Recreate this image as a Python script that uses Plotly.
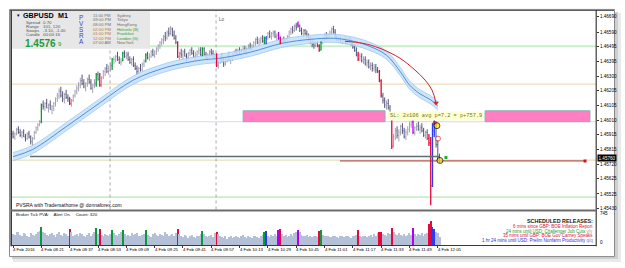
import plotly.graph_objects as go

W, H = 625, 268
FONT = "Liberation Sans, Arial, sans-serif"
MONO = "Liberation Mono, Courier New, monospace"

# ---------------- data (GBPUSD M1) ----------------
bar_open = [
    1.4592, 1.4590, 1.4592, 1.4595, 1.4593, 1.4591, 1.4593, 1.4590, 1.4589, 1.4592,
    1.4590, 1.4587, 1.4589, 1.4593, 1.4596, 1.4598, 1.4600, 1.4611, 1.4610, 1.4612,
    1.4609, 1.4611, 1.4608, 1.4610, 1.4612, 1.4615, 1.4617, 1.4620, 1.4617, 1.4615,
    1.4618, 1.4616, 1.4616, 1.4612, 1.4614, 1.4617, 1.4620, 1.4622, 1.4624, 1.4627,
    1.4625, 1.4623, 1.4625, 1.4628, 1.4626, 1.4622, 1.4624, 1.4625, 1.4631, 1.4630,
    1.4624, 1.4629, 1.4633, 1.4635, 1.4633, 1.4636, 1.4637, 1.4641, 1.4641, 1.4643,
    1.4641, 1.4639, 1.4640, 1.4645, 1.4643, 1.4644, 1.4641, 1.4639, 1.4641, 1.4637,
    1.4635, 1.4633, 1.4635, 1.4634, 1.4638, 1.4640, 1.4644, 1.4642, 1.4643, 1.4646,
    1.4644, 1.4646, 1.4648, 1.4650, 1.4652, 1.4654, 1.4656, 1.4655, 1.4659, 1.4658,
    1.4661, 1.4657, 1.4655, 1.4652, 1.4643, 1.4645, 1.4644, 1.4646, 1.4643, 1.4642,
    1.4645, 1.4647, 1.4645, 1.4643, 1.4644, 1.4646, 1.4647, 1.4644, 1.4648, 1.4644,
    1.4642, 1.4644, 1.4646, 1.4645, 1.4643, 1.4644, 1.4637, 1.4640, 1.4642, 1.4640,
    1.4638, 1.4641, 1.4643, 1.4641, 1.4642, 1.4644, 1.4646, 1.4645, 1.4647, 1.4645,
    1.4647, 1.4648, 1.4646, 1.4648, 1.4650, 1.4648, 1.4650, 1.4652, 1.4654, 1.4652,
    1.4653, 1.4655, 1.4653, 1.4655, 1.4656, 1.4658, 1.4656, 1.4658, 1.4659, 1.4656,
    1.4657, 1.4655, 1.4652, 1.4654, 1.4653, 1.4654, 1.4656, 1.4659, 1.4661, 1.4660,
    1.4663, 1.4664, 1.4663, 1.4660, 1.4658, 1.4660, 1.4658, 1.4656, 1.4654, 1.4652,
    1.4651, 1.4650, 1.4652, 1.4650, 1.4647, 1.4652, 1.4655, 1.4657, 1.4655, 1.4657,
    1.4659, 1.4661, 1.4659, 1.4656, 1.4654, 1.4655, 1.4653, 1.4654, 1.4655, 1.4652,
    1.4654, 1.4653, 1.4651, 1.4649, 1.4647, 1.4644, 1.4641, 1.4643, 1.4640, 1.4641,
    1.4638, 1.4639, 1.4636, 1.4637, 1.4635, 1.4636, 1.4634, 1.4633, 1.4627, 1.4617,
    1.4614, 1.4611, 1.4612, 1.4609, 1.4603, 1.4584, 1.4590, 1.4594, 1.4591, 1.4593,
    1.4597, 1.4594, 1.4590, 1.4593, 1.4595, 1.4598, 1.4600, 1.4593, 1.4596, 1.4597,
    1.4595, 1.4596, 1.4594, 1.4591, 1.4593, 1.4589, 1.4586, 1.4558, 1.4594, 1.4598,
    1.4585, 1.4577,
]
bar_high = [
    1.4594, 1.4593, 1.4596, 1.4597, 1.4595, 1.4594, 1.4595, 1.4592, 1.4593, 1.4594,
    1.4591, 1.4590, 1.4594, 1.4597, 1.4599, 1.4601, 1.4612, 1.4614, 1.4613, 1.4615,
    1.4612, 1.4614, 1.4611, 1.4613, 1.4616, 1.4619, 1.4622, 1.4623, 1.4620, 1.4619,
    1.4621, 1.4618, 1.4616, 1.4615, 1.4618, 1.4621, 1.4624, 1.4626, 1.4629, 1.4631,
    1.4628, 1.4626, 1.4629, 1.4631, 1.4628, 1.4625, 1.4628, 1.4632, 1.4633, 1.4632,
    1.4630, 1.4634, 1.4636, 1.4638, 1.4637, 1.4639, 1.4642, 1.4643, 1.4644, 1.4646,
    1.4643, 1.4642, 1.4646, 1.4647, 1.4646, 1.4646, 1.4643, 1.4642, 1.4643, 1.4639,
    1.4637, 1.4636, 1.4638, 1.4639, 1.4641, 1.4645, 1.4646, 1.4645, 1.4647, 1.4648,
    1.4647, 1.4649, 1.4651, 1.4653, 1.4655, 1.4657, 1.4659, 1.4660, 1.4662, 1.4663,
    1.4662, 1.4660, 1.4657, 1.4653, 1.4646, 1.4648, 1.4647, 1.4648, 1.4645, 1.4646,
    1.4648, 1.4649, 1.4647, 1.4646, 1.4647, 1.4649, 1.4649, 1.4649, 1.4649, 1.4646,
    1.4645, 1.4647, 1.4648, 1.4647, 1.4645, 1.4645, 1.4641, 1.4643, 1.4645, 1.4642,
    1.4642, 1.4644, 1.4646, 1.4643, 1.4645, 1.4647, 1.4648, 1.4648, 1.4649, 1.4648,
    1.4650, 1.4650, 1.4649, 1.4651, 1.4652, 1.4651, 1.4653, 1.4655, 1.4656, 1.4655,
    1.4656, 1.4657, 1.4656, 1.4656, 1.4659, 1.4660, 1.4659, 1.4660, 1.4660, 1.4658,
    1.4659, 1.4656, 1.4655, 1.4656, 1.4655, 1.4657, 1.4660, 1.4662, 1.4663, 1.4664,
    1.4665, 1.4666, 1.4664, 1.4662, 1.4661, 1.4661, 1.4660, 1.4658, 1.4656, 1.4654,
    1.4653, 1.4653, 1.4653, 1.4651, 1.4653, 1.4656, 1.4658, 1.4659, 1.4658, 1.4660,
    1.4662, 1.4663, 1.4661, 1.4657, 1.4656, 1.4656, 1.4655, 1.4656, 1.4656, 1.4655,
    1.4656, 1.4655, 1.4653, 1.4651, 1.4649, 1.4646, 1.4645, 1.4645, 1.4643, 1.4643,
    1.4641, 1.4641, 1.4639, 1.4639, 1.4638, 1.4638, 1.4636, 1.4634, 1.4628, 1.4619,
    1.4616, 1.4614, 1.4615, 1.4611, 1.4604, 1.4592, 1.4596, 1.4597, 1.4595, 1.4598,
    1.4599, 1.4596, 1.4595, 1.4597, 1.4600, 1.4601, 1.4601, 1.4597, 1.4599, 1.4600,
    1.4598, 1.4599, 1.4596, 1.4594, 1.4595, 1.4592, 1.4590, 1.4599, 1.4602, 1.4599,
    1.4588, 1.4579,
]
bar_low = [
    1.4589, 1.4588, 1.4591, 1.4592, 1.4590, 1.4589, 1.4590, 1.4587, 1.4588, 1.4589,
    1.4585, 1.4584, 1.4588, 1.4592, 1.4594, 1.4597, 1.4599, 1.4608, 1.4607, 1.4609,
    1.4606, 1.4608, 1.4605, 1.4607, 1.4610, 1.4613, 1.4615, 1.4616, 1.4613, 1.4612,
    1.4615, 1.4613, 1.4611, 1.4610, 1.4613, 1.4616, 1.4618, 1.4620, 1.4622, 1.4624,
    1.4622, 1.4620, 1.4623, 1.4625, 1.4621, 1.4619, 1.4622, 1.4623, 1.4627, 1.4623,
    1.4623, 1.4628, 1.4630, 1.4632, 1.4631, 1.4633, 1.4634, 1.4638, 1.4639, 1.4640,
    1.4638, 1.4637, 1.4640, 1.4642, 1.4641, 1.4640, 1.4638, 1.4637, 1.4636, 1.4634,
    1.4631, 1.4631, 1.4633, 1.4633, 1.4636, 1.4639, 1.4641, 1.4640, 1.4642, 1.4643,
    1.4642, 1.4644, 1.4646, 1.4648, 1.4650, 1.4651, 1.4653, 1.4654, 1.4656, 1.4657,
    1.4656, 1.4654, 1.4651, 1.4642, 1.4640, 1.4642, 1.4641, 1.4643, 1.4640, 1.4641,
    1.4643, 1.4644, 1.4642, 1.4640, 1.4642, 1.4644, 1.4643, 1.4643, 1.4643, 1.4641,
    1.4640, 1.4642, 1.4643, 1.4642, 1.4641, 1.4636, 1.4635, 1.4638, 1.4639, 1.4636,
    1.4637, 1.4639, 1.4640, 1.4638, 1.4640, 1.4642, 1.4643, 1.4643, 1.4644, 1.4643,
    1.4645, 1.4645, 1.4644, 1.4646, 1.4647, 1.4646, 1.4649, 1.4650, 1.4651, 1.4650,
    1.4651, 1.4652, 1.4651, 1.4651, 1.4654, 1.4655, 1.4654, 1.4656, 1.4655, 1.4653,
    1.4654, 1.4651, 1.4651, 1.4652, 1.4651, 1.4653, 1.4655, 1.4657, 1.4658, 1.4659,
    1.4660, 1.4662, 1.4659, 1.4657, 1.4656, 1.4657, 1.4655, 1.4653, 1.4651, 1.4649,
    1.4648, 1.4649, 1.4649, 1.4646, 1.4647, 1.4651, 1.4653, 1.4654, 1.4654, 1.4656,
    1.4657, 1.4658, 1.4655, 1.4653, 1.4652, 1.4652, 1.4651, 1.4652, 1.4651, 1.4651,
    1.4652, 1.4650, 1.4648, 1.4646, 1.4643, 1.4640, 1.4640, 1.4639, 1.4638, 1.4637,
    1.4636, 1.4635, 1.4634, 1.4633, 1.4633, 1.4632, 1.4632, 1.4626, 1.4616, 1.4612,
    1.4609, 1.4608, 1.4608, 1.4605, 1.4582, 1.4583, 1.4588, 1.4589, 1.4587, 1.4591,
    1.4592, 1.4589, 1.4588, 1.4591, 1.4593, 1.4596, 1.4592, 1.4591, 1.4594, 1.4594,
    1.4592, 1.4593, 1.4590, 1.4589, 1.4588, 1.4584, 1.4545, 1.4557, 1.4590, 1.4583,
    1.4574, 1.4573,
]
bar_close = [
    1.4590, 1.4592, 1.4595, 1.4593, 1.4591, 1.4593, 1.4590, 1.4589, 1.4592, 1.4590,
    1.4587, 1.4589, 1.4593, 1.4596, 1.4598, 1.4600, 1.4611, 1.4610, 1.4612, 1.4609,
    1.4611, 1.4608, 1.4610, 1.4612, 1.4615, 1.4617, 1.4620, 1.4617, 1.4615, 1.4618,
    1.4616, 1.4615, 1.4612, 1.4614, 1.4617, 1.4620, 1.4622, 1.4624, 1.4627, 1.4625,
    1.4623, 1.4625, 1.4628, 1.4626, 1.4622, 1.4624, 1.4626, 1.4631, 1.4628, 1.4624,
    1.4629, 1.4633, 1.4635, 1.4633, 1.4636, 1.4637, 1.4641, 1.4641, 1.4643, 1.4641,
    1.4639, 1.4640, 1.4645, 1.4643, 1.4644, 1.4641, 1.4639, 1.4641, 1.4637, 1.4635,
    1.4633, 1.4635, 1.4634, 1.4638, 1.4640, 1.4644, 1.4642, 1.4643, 1.4646, 1.4644,
    1.4646, 1.4648, 1.4650, 1.4652, 1.4654, 1.4656, 1.4655, 1.4659, 1.4658, 1.4661,
    1.4657, 1.4655, 1.4652, 1.4643, 1.4645, 1.4644, 1.4646, 1.4643, 1.4642, 1.4645,
    1.4647, 1.4645, 1.4643, 1.4644, 1.4646, 1.4647, 1.4644, 1.4648, 1.4644, 1.4642,
    1.4644, 1.4646, 1.4645, 1.4643, 1.4644, 1.4637, 1.4640, 1.4642, 1.4640, 1.4638,
    1.4641, 1.4643, 1.4641, 1.4642, 1.4644, 1.4646, 1.4645, 1.4647, 1.4645, 1.4647,
    1.4648, 1.4646, 1.4648, 1.4650, 1.4648, 1.4650, 1.4652, 1.4654, 1.4652, 1.4653,
    1.4655, 1.4653, 1.4655, 1.4656, 1.4658, 1.4656, 1.4658, 1.4659, 1.4656, 1.4657,
    1.4655, 1.4652, 1.4654, 1.4653, 1.4654, 1.4656, 1.4659, 1.4661, 1.4660, 1.4663,
    1.4662, 1.4663, 1.4660, 1.4658, 1.4660, 1.4658, 1.4656, 1.4654, 1.4652, 1.4651,
    1.4650, 1.4652, 1.4650, 1.4647, 1.4652, 1.4655, 1.4657, 1.4655, 1.4657, 1.4659,
    1.4661, 1.4659, 1.4656, 1.4654, 1.4655, 1.4653, 1.4654, 1.4655, 1.4652, 1.4654,
    1.4653, 1.4651, 1.4649, 1.4647, 1.4644, 1.4641, 1.4643, 1.4640, 1.4641, 1.4638,
    1.4639, 1.4636, 1.4637, 1.4635, 1.4636, 1.4634, 1.4633, 1.4627, 1.4617, 1.4614,
    1.4611, 1.4612, 1.4609, 1.4606, 1.4584, 1.4590, 1.4594, 1.4591, 1.4593, 1.4597,
    1.4594, 1.4590, 1.4593, 1.4595, 1.4598, 1.4599, 1.4593, 1.4596, 1.4597, 1.4595,
    1.4596, 1.4594, 1.4591, 1.4593, 1.4589, 1.4586, 1.4558, 1.4594, 1.4598, 1.4585,
    1.4577, 1.4576,
]
tick_volume = [
    250, 230, 280, 300, 220, 190, 260, 240, 210, 180,
    270, 230, 200, 250, 290, 310, 410, 300, 260, 230,
    210, 240, 270, 220, 180, 250, 280, 230, 210, 260,
    240, 200, 350, 300, 190, 230, 250, 210, 270, 240,
    200, 180, 230, 260, 210, 240, 280, 380, 250, 360,
    230, 210, 250, 220, 190, 240, 330, 260, 230, 210,
    250, 280, 340, 240, 210, 230, 200, 260, 220, 240,
    270, 210, 190, 230, 250, 330, 220, 200, 180, 240,
    260, 220, 190, 250, 230, 210, 280, 240, 200, 230,
    250, 210, 270, 360, 240, 200, 180, 220, 190, 160,
    200, 230, 180, 150, 210, 190, 240, 320, 250, 200,
    170, 190, 220, 180, 260, 300, 240, 210, 180, 160,
    190, 140, 170, 200, 150, 180, 210, 170, 150, 190,
    220, 180, 160, 200, 170, 150, 190, 210, 180, 160,
    200, 230, 300, 310, 200, 180, 220, 190, 240, 210,
    330, 350, 250, 200, 230, 180, 210, 240, 200, 260,
    290, 330, 280, 230, 200, 190, 220, 180, 200, 170,
    190, 210, 180, 320, 340, 230, 200, 190, 210, 180,
    170, 190, 200, 180, 160, 190, 210, 170, 190, 200,
    180, 160, 210, 190, 230, 330, 200, 180, 210, 190,
    170, 200, 220, 180, 240, 200, 260, 300, 290, 250,
    230, 210, 260, 240, 390, 280, 250, 220, 260, 230,
    200, 240, 210, 230, 260, 220, 380, 240, 210, 250,
    230, 270, 200, 240, 260, 470, 540, 400, 370, 300,
    260, 180,
]
minutes = list(range(len(bar_open)))

climax_bull_idx = [16, 47, 56, 62, 75, 107, 142, 174]
climax_bear_idx = [32, 49, 93, 115, 151, 173, 195, 207, 208, 214, 235, 236]
rising_bull_idx = [143, 237, 238]
rising_bear_idx = [150, 161, 226]

time_tick_pos = [0, 16, 32, 48, 64, 80, 96, 112, 128, 144, 160, 176, 192, 208, 224, 240]
time_tick_labels = ["4 Feb 2016", "4 Feb 08:21", "4 Feb 08:37", "4 Feb 08:53", "4 Feb 09:09",
                    "4 Feb 09:25", "4 Feb 09:41", "4 Feb 09:57", "4 Feb 10:13", "4 Feb 10:29",
                    "4 Feb 10:45", "4 Feb 11:01", "4 Feb 11:17", "4 Feb 11:33", "4 Feb 11:49",
                    "4 Feb 12:05"]
price_ticks = [1.46690, 1.46590, 1.46495, 1.46395, 1.46300, 1.46205, 1.46105,
               1.46010, 1.45915, 1.45815, 1.45720, 1.45625, 1.45525, 1.45430]
vol_axis_ticks = [745, 0]

# moving-average band
ma_t = [0, 11, 30, 49, 68, 87, 106, 117, 134, 152, 168, 181, 190, 200, 211, 219, 224, 230, 236, 240]
ma_mid = [1.45770, 1.45817, 1.45967, 1.46124, 1.46274, 1.46359, 1.46405, 1.46418, 1.46457, 1.46516,
          1.46542, 1.46549, 1.46535, 1.46503, 1.46438, 1.46326, 1.46242, 1.46183, 1.46144, 1.46104]
ma_up = [1.45797, 1.45844, 1.45994, 1.46151, 1.46301, 1.46386, 1.46432, 1.46445, 1.46484, 1.46543,
         1.46569, 1.46576, 1.46562, 1.46530, 1.46465, 1.46353, 1.46269, 1.46210, 1.46171, 1.46131]
ma_lo = [1.45743, 1.45790, 1.45940, 1.46097, 1.46247, 1.46332, 1.46378, 1.46391, 1.46430, 1.46489,
         1.46515, 1.46522, 1.46508, 1.46476, 1.46411, 1.46299, 1.46215, 1.46156, 1.46117, 1.46077]

# red projection arc
arc_t = [187.6, 197.7, 207.3, 218.6, 227.1, 232.8, 236.7, 239.0]
arc_p = [1.46529, 1.46516, 1.46483, 1.46418, 1.46340, 1.46274, 1.46209, 1.46124]

level_prices = [1.46496, 1.46248, 1.46000, 1.45748, 1.45504]
support_t = [9.6, 241.0]
support_p = 1.45771
bid_t = [184.7, 323.2]
bid_p = 1.45742
zone_t0 = [130.0, 266.7]
zone_t1 = [210.2, 326.0]
zone_lo, zone_hi = 1.46000, 1.46072
vline_t = [54.8, 114.7]
current_price = 1.45760
sl_text = "SL: 2x106 avg p=7.2 = p+757.9"
order_t = [238.4, 239.5, 240.1, 241.2]
order_p = [1.45990, 1.45974, 1.45889, 1.45745]
tp_t, tp_p = 244.6, 1.45765

# ---------------- styles ----------------
C_UP, C_DN = "#a3a3b6", "#535378"
C_GREEN, C_RED, C_BLUE, C_MAG = "#0a9a3e", "#e3083e", "#2a3cf0", "#b400e6"
C_VOL = "#b3c0d8"


def px(x):
    return x / W


def py(y):
    return 1 - y / H


fig = go.Figure()

# MA band
fig.add_trace(go.Scatter(x=ma_t, y=ma_lo, mode="lines", line=dict(color="#9fcaf0", width=0.8, shape="spline"),
                         hoverinfo="skip"))
fig.add_trace(go.Scatter(x=ma_t, y=ma_up, mode="lines", line=dict(color="#9fcaf0", width=0.8, shape="spline"),
                         fill="tonexty", fillcolor="rgba(196,224,250,0.85)", hoverinfo="skip"))
fig.add_trace(go.Scatter(x=ma_t, y=ma_mid, mode="lines", line=dict(color="#4684d6", width=0.9, shape="spline"),
                         hoverinfo="skip"))

# normal bars
special = set(climax_bull_idx + climax_bear_idx + rising_bull_idx + rising_bear_idx)
norm = [i for i in minutes if i not in special]
fig.add_trace(go.Ohlc(
    x=norm, open=[bar_open[i] for i in norm], high=[bar_high[i] for i in norm],
    low=[bar_low[i] for i in norm], close=[bar_close[i] for i in norm],
    increasing=dict(line=dict(color=C_UP, width=1)), decreasing=dict(line=dict(color=C_DN, width=1)),
    tickwidth=0.35, hoverinfo="skip"))


def seg(idx):
    xs, ys = [], []
    for i in idx:
        xs += [i, i, None, i - 0.35, i, None, i, i + 0.35, None]
        ys += [bar_low[i], bar_high[i], None, bar_open[i], bar_open[i], None, bar_close[i], bar_close[i], None]
    return xs, ys


for idx, col in [(climax_bull_idx, C_GREEN), (climax_bear_idx, C_RED),
                 (rising_bull_idx, C_BLUE), (rising_bear_idx, C_MAG)]:
    xs, ys = seg(idx)
    fig.add_trace(go.Scatter(x=xs, y=ys, mode="lines", line=dict(color=col, width=1.3), hoverinfo="skip"))

# red arc
fig.add_trace(go.Scatter(x=arc_t, y=arc_p, mode="lines", line=dict(color="#d42424", width=1, shape="spline"),
                         hoverinfo="skip"))
fig.add_trace(go.Scatter(x=[arc_t[-1]], y=[arc_p[-1]], mode="markers",
                         marker=dict(symbol="triangle-down", size=5, color="#d42424"), hoverinfo="skip"))

# support / bid lines
fig.add_trace(go.Scatter(x=support_t, y=[support_p, support_p], mode="lines",
                         line=dict(color="#5e6e6e", width=1.6), hoverinfo="skip"))
fig.add_trace(go.Scatter(x=bid_t, y=[bid_p, bid_p], mode="lines",
                         line=dict(color="#a83434", width=1), hoverinfo="skip"))
fig.add_trace(go.Scatter(x=[bid_t[1]], y=[bid_p], mode="markers",
                         marker=dict(symbol="square", size=3, color="#d01818"), hoverinfo="skip"))

# order markers
fig.add_trace(go.Scatter(x=order_t, y=order_p, mode="markers",
                         marker=dict(symbol="circle",
                                     size=[4, 6, 5, 6],
                                     color=["#e02020", "#ffe000", "#ffffff", "#f0e020"],
                                     line=dict(color=["#c01010", "#000000", "#d02020", "#000000"], width=1)),
                         hoverinfo="skip"))
fig.add_trace(go.Scatter(x=[tp_t], y=[tp_p], mode="markers",
                         marker=dict(symbol="square", size=3, color="#18b030"), hoverinfo="skip"))

# volume
vol_col = [C_VOL] * len(tick_volume)
for idx, col in [(climax_bull_idx, C_GREEN), (climax_bear_idx, C_RED),
                 (rising_bull_idx, C_BLUE), (rising_bear_idx, C_MAG)]:
    for i in idx:
        vol_col[i] = col
fig.add_trace(go.Bar(x=minutes, y=tick_volume, marker=dict(color=vol_col, line=dict(width=0)),
                     width=0.6, yaxis="y2", hoverinfo="skip"))

# ---------------- shapes ----------------
shapes = []
# window shadow + frame
shapes.append(dict(type="rect", xref="paper", yref="paper", x0=px(13), x1=px(621), y0=py(264), y1=py(13),
                   fillcolor="#e9e9e9", line=dict(width=0), layer="below"))
shapes.append(dict(type="rect", xref="paper", yref="paper", x0=px(12), x1=px(618), y0=py(261), y1=py(12),
                   fillcolor="#cfcfcf", line=dict(width=0), layer="below"))
shapes.append(dict(type="rect", xref="paper", yref="paper", x0=px(9.5), x1=px(614.5), y0=py(258.5), y1=py(9.5),
                   fillcolor="#ffffff", line=dict(color="#8a8a8a", width=1), layer="below"))

# level lines
lvl_cols = ["#c9efc9", "#e9dfbd", "#d9d3f5", "#e9dfbd", "#c9efc9"]
lvl_w = [2, 1.2, 1.2, 1.2, 1.6]
for p, c, w in zip(level_prices, lvl_cols, lvl_w):
    shapes.append(dict(type="line", xref="x domain", yref="y", x0=0, x1=1, y0=p, y1=p,
                       line=dict(color=c, width=w), layer="below"))
for t in vline_t:
    shapes.append(dict(type="line", xref="x", yref="y domain", x0=t, x1=t, y0=0, y1=1,
                       line=dict(color="#a8a8a8", width=1, dash="dot"), layer="below"))
# pink zones
for t0, t1 in zip(zone_t0, zone_t1):
    shapes.append(dict(type="rect", xref="x", yref="y", x0=t0, x1=t1, y0=zone_lo, y1=zone_hi,
                       fillcolor="#ff7fc2", line=dict(color="#86b4b0", width=1), layer="above"))

# chart borders
shapes.append(dict(type="line", xref="paper", yref="paper", x0=px(11.2), x1=px(11.2), y0=py(248), y1=py(10),
                   line=dict(color="#3a3a3a", width=1.6)))
shapes.append(dict(type="line", xref="paper", yref="paper", x0=px(10), x1=px(614), y0=py(10.5), y1=py(10.5),
                   line=dict(color="#505050", width=1)))
shapes.append(dict(type="line", xref="paper", yref="paper", x0=px(596.2), x1=px(596.2), y0=py(248), y1=py(10),
                   line=dict(color="#3a3a3a", width=1.2)))
shapes.append(dict(type="line", xref="paper", yref="paper", x0=px(11), x1=px(596), y0=py(212), y1=py(212),
                   line=dict(color="#6c6c6c", width=2)))
# info panel
shapes.append(dict(type="rect", xref="paper", yref="paper", x0=px(12), x1=px(150), y0=py(49), y1=py(11),
                   fillcolor="#e7e7e7", line=dict(width=0), layer="above"))

# ---------------- annotations ----------------
ann = []


def text(x, y, s, size=5.0, color="#000000", anchor="left", family=FONT, **kw):
    ann.append(dict(x=px(x), y=py(y), xref="paper", yref="paper", text=s, showarrow=False,
                    xanchor=anchor, yanchor="middle", font=dict(size=size, color=color, family=family), **kw))


text(14.5, 15.5, "▾", 5)
text(20.5, 16, "<b>GBPUSD</b>", 7.2)
text(56.5, 16, "<b>M1</b>", 7.2)
info_lab = ["Spread", "Range", "Swaps", "Candle"]
info_val = ["0.70", "101, 120", "-3.10, -1.40", "00:00:16"]
for k, (a, b) in enumerate(zip(info_lab, info_val)):
    text(24, 22.7 + 4 * k, a, 4.4, "#555555")
    text(40.5, 22.7 + 4 * k, b, 4.4, "#555555")
text(23, 43.5, "<b>1.4576</b>", 10, "#1e9a3c")
text(56, 44.5, "9", 6, "#1e9a3c")
for k, ch in enumerate("PVSRA"):
    text(81, 17.3 + 6.2 * k, ch, 6.4, "#3b3bd0", anchor="center")
sess_time = ["11:00 PM", "09:00 PM", "08:00 PM", "02:00 PM", "01:00 PM", "12:00 PM", "07:00 AM"]
sess_name = ["Sydney", "Tokyo", "HongKong", "Helsinki (B)", "Frankfurt", "London (G)", "NewYork"]
sess_tc = ["#707070", "#707070", "#707070", "#b57a3a", "#b57a3a", "#b57a3a", "#707070"]
sess_nc = ["#707070", "#707070", "#707070", "#2f9e2f", "#2f9e2f", "#2f9e2f", "#707070"]
for k in range(7):
    text(91, 15.3 + 4.67 * k, sess_time[k], 4.2, sess_tc[k])
    text(114.5, 15.3 + 4.67 * k, sess_name[k], 4.2, sess_nc[k])

ann.append(dict(x=vline_t[1], xref="x", y=py(15.5), yref="paper", text="Lo", showarrow=False,
                xanchor="left", xshift=1, font=dict(size=4.6, color="#606060", family=FONT)))

text(13.5, 206.5, "PVSRA with Tradersathome @ donnaforex.com", 5.0, "#101010")
text(13.5, 216, "Broker Tick PVA:    Alert On.    Count: 320", 4.4, "#101010")

rel_text = ["<b>SCHEDULED RELEASES:</b>",
            "6 mins since GBP: BOE Inflation Report",
            "24 mins until USD: Challenger Job Cuts <span style='color:#8aa070'>y/y</span>",
            "35 mins until GBP: BOE Gov Carney Speaks",
            "1 hr 24 mins until USD: Prelim Nonfarm Productivity <span style='color:#6a80c0'>q/q</span>"]
rel_col = ["#202020", "#e0103c", "#1d9a30", "#e0103c", "#2030e0"]
rel_y = [222.8, 228.2, 233.0, 237.6, 242.4]
rel_sz = [5.4, 4.5, 4.5, 4.5, 4.5]
for s, c, yy, sz in zip(rel_text, rel_col, rel_y, rel_sz):
    text(594.5, yy, s, sz, c, anchor="right")

# SL label
ann.append(dict(x=212.0, xref="x", y=(zone_lo + zone_hi) / 2, yref="y", text=sl_text, showarrow=False,
                xanchor="left", yanchor="middle", bgcolor="#ffffd2", borderpad=1,
                font=dict(size=5.3, color="#5d7a28", family=MONO)))

# time labels
for t, lab in zip(time_tick_pos, time_tick_labels):
    ann.append(dict(x=t, xref="x", y=py(251.8), yref="paper", text=lab, showarrow=False,
                    xanchor="left", xshift=-2, yanchor="middle",
                    font=dict(size=4.3, color="#000000", family=FONT)))
# volume axis labels
text(598, 215.5, str(vol_axis_ticks[0]), 4.6)
text(598, 244.5, str(vol_axis_ticks[1]), 4.6)

# current price box
ann.append(dict(x=px(596.5), xref="paper", y=current_price, yref="y", text="%.5f" % current_price,
                showarrow=False, xanchor="left", yanchor="middle", bgcolor="#000000", borderpad=0.5,
                font=dict(size=4.6, color="#ffffff", family=FONT)))

fig.update_layout(
    width=W, height=H, margin=dict(l=0, r=0, t=0, b=0),
    paper_bgcolor="#ffffff", plot_bgcolor="#ffffff", showlegend=False,
    shapes=shapes, annotations=ann,
    xaxis=dict(domain=[px(12), px(596)], range=[-0.6, 329.4], anchor="y2",
               showgrid=False, zeroline=False, showline=True, linecolor="#3a3a3a", linewidth=1,
               ticks="outside", ticklen=2, tickcolor="#3a3a3a", tickvals=time_tick_pos,
               showticklabels=False, rangeslider=dict(visible=False), fixedrange=True),
    yaxis=dict(domain=[py(211), py(11)], range=[1.45423, 1.46729], side="right", anchor="x",
               showgrid=False, zeroline=False, showline=False,
               ticks="outside", ticklen=2, tickcolor="#333333",
               tickvals=price_ticks, ticktext=["%.5f" % v for v in price_ticks],
               tickfont=dict(size=4.6, color="#000000", family=FONT), fixedrange=True),
    yaxis2=dict(domain=[py(247), py(213)], range=[0, 770], side="right", anchor="x",
                showgrid=False, zeroline=False, showline=False, showticklabels=False, ticks="",
                fixedrange=True),
    bargap=0,
)

fig.write_html("out.html")
